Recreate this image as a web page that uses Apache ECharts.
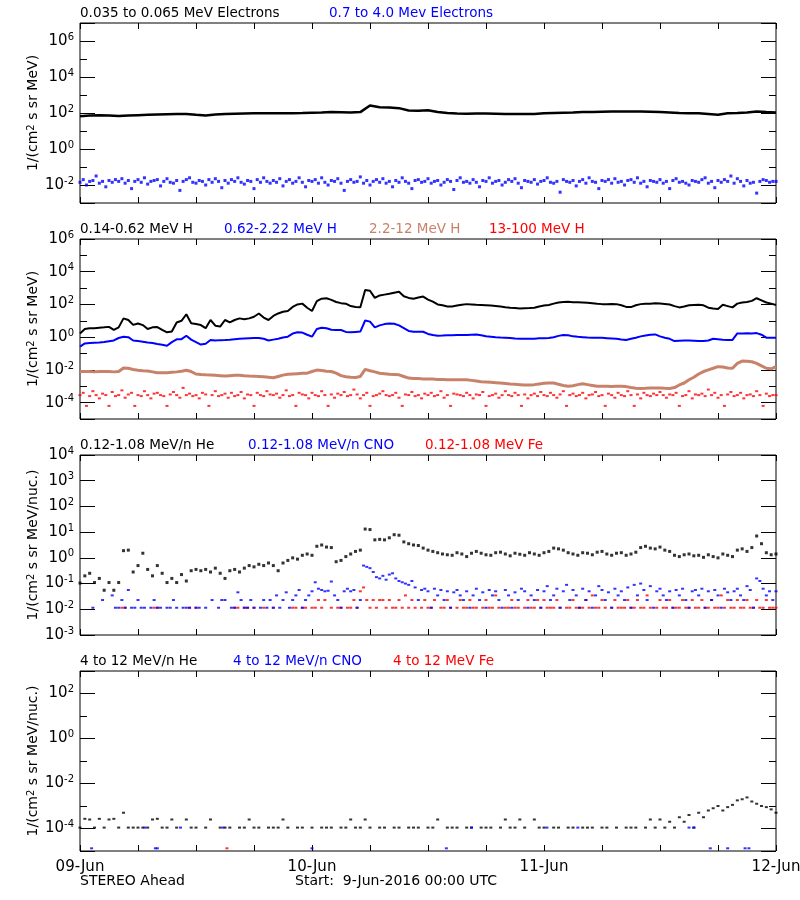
<!DOCTYPE html>
<html><head><meta charset="utf-8">
<script src="https://cdn.jsdelivr.net/npm/echarts@6/dist/echarts.min.js"></script>
<style>html,body{margin:0;padding:0;background:#fff}#chart{width:800px;height:900px}</style>
</head><body><div id="chart"></div>
<script>
// ---------------- DATA (log10 of flux), hours since 09-Jun-2016 00:00 UTC ----------------
const dayLabels = ['09-Jun', '10-Jun', '11-Jun', '12-Jun'];
const startText = 'Start:  9-Jun-2016 00:00 UTC';
const spacecraft = 'STEREO Ahead';

// Panel 1: electrons
const e1LowLog10_1h = [1.82,1.86,1.88,1.86,1.83,1.86,1.88,1.9,1.92,1.93,1.94,1.95,1.9,1.86,1.92,1.95,1.96,1.97,1.98,1.99,1.98,1.98,1.99,2.0,2.02,2.03,2.05,2.04,2.03,2.05,2.42,2.32,2.3,2.27,2.14,2.12,2.15,2.05,2.0,1.97,1.96,1.97,1.97,1.96,1.95,1.95,1.94,1.95,1.98,2.0,2.02,2.03,2.05,2.06,2.07,2.08,2.08,2.08,2.09,2.07,2.05,2.03,2.0,1.99,1.98,1.94,1.9,1.98,2.0,2.03,2.08,2.05,2.03];
const e1HighLog10_20m = [
-1.85,-1.7,-2.0,-1.8,-1.75,-1.5,-1.9,-1.8,-2.1,-1.75,-1.85,-1.7,
-1.8,-1.65,-1.9,-1.75,-2.2,-1.8,-1.7,-1.85,-1.6,-1.95,-1.8,-1.75,
-1.7,-2.05,-1.8,-1.65,-1.85,-1.9,-1.75,-2.3,-1.8,-1.7,-1.6,-1.85,
-1.9,-1.75,-1.8,-2.0,-1.7,-1.85,-1.65,-1.8,-2.15,-1.75,-1.9,-1.7,
-1.8,-1.6,-1.85,-1.95,-1.75,-1.8,-2.2,-1.7,-1.85,-1.6,-1.8,-1.9,
-1.75,-1.85,-1.65,-2.05,-1.8,-1.7,-1.9,-1.8,-1.6,-1.85,-2.1,-1.75,
-1.8,-1.7,-1.9,-1.6,-1.85,-2.0,-1.75,-1.8,-1.65,-1.9,-2.3,-1.8,
-1.7,-1.85,-1.8,-1.55,-1.9,-1.75,-2.0,-1.8,-1.7,-1.85,-1.65,-1.9,
-1.8,-2.1,-1.75,-1.85,-1.6,-1.8,-1.9,-2.2,-1.75,-1.7,-1.85,-1.8,
-1.65,-1.9,-1.8,-1.75,-2.0,-1.85,-1.7,-1.8,-2.25,-1.75,-1.6,-1.85,
-1.8,-1.9,-1.7,-1.85,-2.1,-1.75,-1.8,-1.6,-1.9,-1.8,-1.75,-2.0,
-1.85,-1.7,-1.8,-1.65,-1.9,-2.15,-1.75,-1.8,-1.85,-1.7,-1.95,-1.8,
-1.75,-1.6,-1.85,-1.9,-1.8,-2.4,-1.7,-1.8,-1.85,-1.75,-2.05,-1.8,
-1.7,-1.9,-1.6,-1.8,-1.85,-2.2,-1.75,-1.8,-1.7,-1.9,-1.65,-1.85,
-1.8,-2.0,-1.75,-1.7,-1.85,-1.6,-1.9,-1.8,-2.1,-1.75,-1.8,-1.85,
-1.7,-1.9,-1.8,-2.2,-1.75,-1.65,-1.85,-1.8,-1.9,-2.0,-1.75,-1.8,
-1.85,-1.7,-1.6,-1.9,-1.8,-2.15,-1.75,-1.85,-1.7,-1.8,-1.5,-1.9,
-1.65,-1.8,-2.05,-1.75,-1.9,-1.85,-2.45,-1.8,-1.7,-1.75,-1.85,-1.8,
-1.8];

// Panel 2: protons
const h1Log10_30m = [
0.23,0.5,0.55,0.55,0.58,0.6,0.63,0.45,0.6,1.15,1.05,0.75,
0.84,0.74,0.5,0.6,0.62,0.45,0.3,0.35,0.9,1.0,1.4,0.85,
0.8,0.74,0.55,1.05,0.7,0.65,1.05,0.9,1.05,1.15,1.1,1.15,
1.25,1.45,1.2,1.05,1.3,1.45,1.55,1.6,1.85,2.0,2.05,1.8,
1.6,2.2,2.35,2.38,2.28,2.15,2.08,2.05,1.9,1.85,1.83,2.88,
2.84,2.4,2.55,2.6,2.65,2.72,2.78,2.5,2.4,2.35,2.42,2.48,
2.3,2.17,2.0,1.95,1.88,1.87,1.93,1.98,2.02,2.0,1.98,1.97,
1.95,1.93,1.9,1.87,1.83,1.8,1.78,1.76,1.77,1.78,1.8,1.88,
1.93,1.97,2.05,2.12,2.15,2.17,2.14,2.13,2.12,2.1,2.07,2.04,
2.02,2.02,2.03,2.02,1.95,1.85,1.84,1.95,2.02,2.04,2.05,2.07,
2.06,2.03,2.0,1.9,1.82,1.88,1.95,1.97,1.98,1.95,1.8,1.75,
1.72,1.98,1.9,1.82,2.05,2.12,2.15,2.22,2.38,2.25,2.12,2.05,
1.97];
const h2Log10_30m = [
-0.58,-0.38,-0.35,-0.34,-0.33,-0.3,-0.25,-0.2,-0.05,0.03,0.0,-0.2,
-0.24,-0.28,-0.32,-0.35,-0.42,-0.46,-0.52,-0.3,-0.13,-0.12,0.09,-0.15,
-0.3,-0.45,-0.4,-0.17,-0.2,-0.18,-0.17,-0.15,-0.12,-0.1,-0.08,-0.06,
-0.05,-0.05,-0.1,-0.2,-0.15,-0.1,-0.02,0.03,0.22,0.3,0.28,0.15,
0.03,0.5,0.58,0.55,0.45,0.44,0.44,0.32,0.3,0.32,0.34,1.02,
0.95,0.6,0.72,0.8,0.84,0.82,0.72,0.55,0.38,0.33,0.33,0.33,
0.2,0.13,0.09,0.1,0.12,0.12,0.13,0.14,0.13,0.15,0.17,0.12,
0.06,0.03,0.0,-0.02,-0.03,-0.05,-0.08,-0.1,-0.1,-0.1,-0.09,-0.07,
-0.06,-0.05,0.0,0.08,0.13,0.12,0.05,0.02,0.0,-0.02,-0.03,-0.03,
-0.04,-0.06,-0.08,-0.1,-0.14,-0.17,-0.1,-0.03,0.05,0.1,0.15,0.17,
0.05,-0.03,-0.1,-0.24,-0.22,-0.2,-0.2,-0.22,-0.24,-0.24,-0.2,-0.1,
-0.12,-0.15,-0.17,-0.17,0.23,0.23,0.24,0.23,0.25,0.15,-0.03,-0.03,
-0.03];
const h3Log10_30m = [
-2.1,-2.1,-2.1,-2.12,-2.1,-2.1,-2.1,-2.12,-2.1,-1.88,-1.9,-1.97,
-2.02,-2.05,-2.07,-2.12,-2.17,-2.17,-2.18,-2.15,-2.12,-2.08,-2.02,-2.1,
-2.25,-2.28,-2.3,-2.31,-2.33,-2.35,-2.37,-2.35,-2.33,-2.32,-2.35,-2.37,
-2.38,-2.4,-2.42,-2.45,-2.48,-2.4,-2.32,-2.27,-2.25,-2.23,-2.21,-2.2,
-2.1,-2.01,-2.03,-2.08,-2.1,-2.2,-2.35,-2.42,-2.45,-2.46,-2.4,-1.97,
-2.05,-2.12,-2.2,-2.23,-2.26,-2.28,-2.3,-2.4,-2.5,-2.52,-2.53,-2.55,
-2.56,-2.56,-2.58,-2.58,-2.6,-2.6,-2.6,-2.6,-2.6,-2.64,-2.68,-2.72,
-2.74,-2.76,-2.78,-2.8,-2.83,-2.86,-2.88,-2.9,-2.92,-2.92,-2.9,-2.86,
-2.82,-2.8,-2.8,-2.88,-2.95,-3.0,-2.97,-2.9,-2.85,-2.9,-2.95,-3.0,
-3.0,-3.0,-3.02,-3.0,-3.0,-3.02,-3.08,-3.12,-3.13,-3.12,-3.1,-3.1,
-3.1,-3.12,-3.13,-3.08,-2.92,-2.8,-2.6,-2.45,-2.25,-2.1,-2.0,-1.9,
-1.8,-1.82,-1.88,-1.9,-1.6,-1.46,-1.47,-1.5,-1.6,-1.75,-1.9,-1.93,
-1.8];
const h4Log10_20m = [
-3.54,-3.4,-4.2,-3.6,-3.3,-3.54,-3.74,-3.45,-3.54,-4.2,-3.35,-3.6,
-3.54,-3.25,-3.7,-3.5,-3.4,-4.2,-3.54,-3.6,-3.3,-3.54,-3.74,-3.45,
-3.4,-3.54,-3.6,-4.2,-3.5,-3.35,-3.54,-3.7,-3.1,-3.54,-3.45,-3.6,
-3.54,-3.74,-3.4,-3.5,-4.2,-3.54,-3.3,-3.6,-3.54,-3.45,-3.7,-3.4,
-3.6,-3.54,-3.35,-3.74,-3.5,-3.54,-4.2,-3.4,-3.54,-3.6,-3.3,-3.5,
-3.54,-3.45,-3.7,-3.54,-3.25,-3.6,-3.54,-4.2,-3.4,-3.5,-3.54,-3.74,
-3.4,-3.54,-3.6,-3.3,-3.54,-4.2,-3.5,-3.7,-3.45,-3.54,-3.35,-3.6,
-3.54,-3.2,-3.5,-3.74,-3.54,-3.4,-4.2,-3.6,-3.54,-3.45,-3.3,-3.54,
-3.6,-3.54,-3.4,-3.7,-4.2,-3.5,-3.54,-3.35,-3.6,-3.54,-3.74,-3.45,
-3.54,-3.4,-3.6,-3.54,-3.3,-3.7,-3.54,-4.2,-3.45,-3.5,-3.54,-3.6,
-3.4,-3.54,-3.74,-3.5,-3.54,-3.35,-4.2,-3.6,-3.54,-3.45,-3.7,-3.54,
-3.3,-3.54,-3.6,-3.4,-3.54,-4.2,-3.5,-3.74,-3.54,-3.45,-3.6,-3.35,
-3.54,-3.6,-3.4,-3.54,-3.7,-3.5,-3.3,-4.2,-3.54,-3.45,-3.6,-3.54,
-3.4,-3.74,-3.54,-3.5,-3.35,-3.6,-3.54,-4.2,-3.45,-3.54,-3.7,-3.4,
-3.54,-3.6,-3.3,-3.54,-4.2,-3.5,-3.74,-3.4,-3.54,-3.6,-3.45,-3.54,
-3.35,-3.54,-3.7,-3.5,-3.54,-3.4,-4.2,-3.6,-3.54,-3.3,-3.74,-3.5,
-3.54,-3.45,-3.6,-3.2,-3.54,-3.4,-3.7,-3.54,-4.2,-3.5,-3.35,-3.6,
-3.54,-3.4,-3.74,-3.54,-3.5,-3.6,-3.3,-3.54,-4.2,-3.45,-3.6,-3.54,
-3.54];

// Panel 3: 0.12-1.08 MeV/n ions
const heLowLog10_30m = [
-0.98,-0.7,-0.6,-0.96,-0.8,-1.26,-0.96,-1.26,-0.96,0.28,0.3,-0.55,
-0.3,0.18,-0.45,-0.7,-0.3,-0.6,-0.96,-0.8,-0.96,-0.65,-0.9,-0.5,
-0.45,-0.5,-0.45,-0.55,-0.4,-0.6,-0.8,-0.5,-0.45,-0.55,-0.4,-0.3,
-0.35,-0.25,-0.3,-0.2,-0.3,-0.5,-0.2,-0.1,0.0,-0.05,0.1,0.15,
0.1,0.45,0.5,0.42,0.4,-0.15,-0.1,0.05,0.15,0.25,0.3,1.12,
1.1,0.7,0.72,0.7,0.78,0.9,0.88,0.62,0.55,0.5,0.48,0.38,
0.3,0.25,0.2,0.15,0.12,0.1,0.2,0.15,0.05,0.18,0.25,0.18,
0.12,0.1,0.2,0.22,0.15,0.08,0.18,0.14,0.1,0.2,0.15,0.1,
0.2,0.25,0.38,0.35,0.3,0.2,0.15,0.1,0.2,0.18,0.12,0.22,
0.25,0.15,0.1,0.18,0.2,0.1,0.15,0.22,0.4,0.45,0.38,0.35,
0.42,0.3,0.25,0.1,0.05,0.12,0.15,0.08,0.1,0.02,0.12,0.05,
0.0,0.15,0.1,0.05,0.3,0.35,0.25,0.4,0.85,0.55,0.2,0.12,
0.15];
const cnoLowLog10_20m = [
null,null,null,null,-1.94,null,null,-1.64,null,null,-1.46,-1.94,
-1.94,-1.64,-1.94,-1.25,-1.94,-1.94,-1.64,-1.94,-1.94,null,-1.94,-1.64,
-1.94,-1.94,null,-1.94,-1.94,-1.64,-1.94,null,-1.94,-1.94,-1.94,null,
-1.94,-1.94,null,-1.94,null,-1.64,null,-1.94,-1.64,-1.64,null,-1.94,
-1.94,-1.34,-1.64,-1.94,-1.94,-1.64,-1.94,null,-1.94,-1.64,-1.94,-1.64,
-1.94,-1.46,-1.94,-1.64,-1.34,-1.94,-1.64,-1.46,-1.25,-1.94,-1.64,-1.46,
-1.3,-0.95,-1.2,-1.25,-1.3,-1.28,-0.92,-1.46,-1.64,-1.94,-1.3,-1.2,
-1.3,-1.25,-1.94,-1.64,-0.3,-0.35,-0.4,-0.55,-0.75,-0.8,-0.7,-0.85,
-0.65,-0.6,-0.8,-0.9,-0.95,-1.0,-1.05,-0.9,-1.15,-1.64,-1.25,-1.2,
-1.3,-1.94,-1.2,-1.46,-1.25,-1.64,-1.3,-1.94,-1.34,-1.25,-1.46,-1.64,
-1.3,-1.94,-1.46,-1.2,-1.64,-1.34,-1.94,-1.25,-1.46,-1.3,-1.64,-1.94,
-1.25,-1.46,-1.94,-1.34,-1.64,-1.2,-1.3,-1.94,-1.46,-1.64,-1.25,-1.94,
-1.3,-1.1,-1.64,-1.46,-1.2,-1.94,-1.3,-1.05,-1.64,-1.25,-1.46,-1.94,
-1.2,-1.64,-1.3,-1.94,-1.46,-1.1,-1.25,-1.64,-1.34,-1.94,-1.2,-1.46,
-1.3,-1.64,-1.15,-1.94,-1.05,-1.46,-1.0,-1.25,-1.64,-1.1,-1.94,-1.3,
-1.2,-1.46,-1.64,-1.3,-1.94,-1.25,-1.46,-1.2,-1.64,-1.94,-1.3,-1.25,
-1.46,-1.2,-1.94,-1.3,-1.64,-1.25,-1.46,-1.94,-1.2,-1.34,-1.64,-1.3,
-1.2,-1.46,-1.64,-1.1,-1.25,-1.94,-0.8,-0.9,-1.2,-1.46,-1.3,-1.64,
-1.3];
const feLowLog10_20m = [
null,null,null,null,null,null,null,null,null,null,null,null,
null,-1.94,-1.94,null,null,null,null,null,null,null,null,-1.94,
-1.94,null,null,null,null,null,null,null,null,null,-1.94,null,
-1.94,null,null,null,null,null,null,null,null,null,null,null,
-1.94,-1.94,null,-1.94,-1.94,null,-1.94,null,null,-1.94,null,null,
-1.94,null,null,null,null,null,-1.94,-1.94,null,-1.94,-1.94,null,
-1.94,-1.94,-1.64,-1.94,-1.64,null,-1.94,null,-1.94,-1.94,null,-1.94,
-1.94,-1.64,-1.94,-1.3,-1.15,-1.64,-1.94,-1.64,-1.94,-1.64,-1.64,-1.94,
-1.64,-1.94,-1.94,-1.64,-1.94,-1.46,-1.94,-1.64,-1.94,null,-1.94,-1.64,
-1.94,-1.94,-1.64,null,-1.94,-1.94,-1.64,-1.94,null,-1.94,-1.64,-1.94,
-1.94,-1.64,-1.94,-1.94,null,-1.94,-1.64,-1.94,-1.94,-1.46,-1.94,null,
-1.94,-1.94,-1.64,-1.94,-1.94,null,-1.94,-1.64,-1.94,-1.94,-1.64,-1.94,
-1.64,-1.94,-1.94,-1.94,-1.64,-1.94,null,-1.94,-1.94,-1.64,-1.94,-1.94,
-1.94,-1.64,-1.94,-1.46,-1.94,-1.94,-1.64,-1.94,null,-1.94,-1.64,-1.94,
-1.94,-1.94,-1.64,-1.94,-1.94,-1.64,-1.94,-1.94,-1.46,-1.94,null,-1.94,
-1.64,-1.94,-1.94,-1.64,-1.94,-1.94,-1.94,-1.64,-1.94,-1.94,-1.64,-1.94,
-1.94,-1.64,-1.94,-1.94,-1.64,-1.94,-1.94,-1.46,-1.94,-1.64,-1.94,-1.94,
-1.64,-1.94,-1.94,-1.64,-1.94,-1.94,-1.64,-1.94,-1.94,-1.64,-1.94,-1.94,
-1.94];

// Panel 4: 4-12 MeV/n ions
const heHighLog10_30m = [
-3.96,-3.57,-3.6,-3.96,-3.57,-3.96,-3.6,-3.57,-3.96,-3.3,-3.96,-3.96,
-3.96,-3.96,-3.96,-3.6,-3.57,-3.96,-3.96,-3.6,-3.96,null,-3.6,-3.96,
-3.96,null,-3.96,-3.6,null,-3.96,-3.96,-3.96,null,-3.96,-3.96,-3.6,
-3.96,-3.96,null,-3.96,-3.96,-3.96,-3.6,-3.96,null,-3.96,-3.96,null,
-3.96,null,-3.96,-3.96,-3.96,null,-3.96,-3.96,-3.6,-3.96,-3.96,-3.6,
-3.96,null,-3.96,-3.96,null,-3.96,-3.96,null,-3.96,-3.96,-3.96,null,
-3.96,-3.96,-3.6,null,-3.96,-3.96,-3.96,null,-3.96,-3.96,null,-3.96,
-3.96,-3.96,null,-3.96,-3.6,-3.96,-3.96,-3.6,-3.96,null,-3.6,-3.96,
-3.96,null,-3.96,-3.96,null,-3.96,-3.96,null,-3.96,-3.96,-3.96,null,
-3.96,-3.96,null,-3.96,null,-3.96,-3.96,-3.96,null,-3.96,-3.6,-3.96,
-3.6,-3.96,-3.7,-3.96,-3.5,-3.7,-3.4,-3.96,-3.3,-3.5,-3.2,-3.1,
-3.0,-3.2,-3.05,-2.95,-2.75,-2.7,-2.62,-2.8,-2.9,-3.0,-3.05,-3.15,
-3.3];
const cnoHighHours = [1.2, 6.7, 7.8, 8.0, 10.4, 14.8, 24.0, 37.9, 40.5, 48.3, 51.5, 63.0, 63.5, 65.2, 67.0, 68.8, 69.2];
const cnoHighLog10 = [-4.88, -3.96, -4.88, -4.88, -3.96, -3.96, -4.88, -4.88, -3.96, -3.96, -3.96, -3.96, -3.96, -4.88, -4.88, -4.88, -4.88];
const feHighHours = [15.2];
const feHighLog10 = [-4.88];

// ---------------- LAYOUT / STYLE ----------------
const FONT = 'DejaVu Sans';
const BLACK = '#000000', BLUE = '#0000ff', BROWN = '#c8826a', RED = '#ff0000';
const panelTops = [23, 239, 455, 671];
const panelH = 180;
const unitE = '1/(cm{s|2} s sr MeV)';
const unitN = '1/(cm{s|2} s sr MeV/nuc.)';
const panels = [
  {expMin: -3, expMax: 7, step: 2, name: unitE},
  {expMin: -5, expMax: 6, step: 2, name: unitE},
  {expMin: -3, expMax: 4, step: 1, name: unitN},
  {expMin: -5, expMax: 3, step: 2, name: unitN}
];
const titles = [
  [0, 80, '0.035 to 0.065 MeV Electrons', BLACK],
  [0, 329, '0.7 to 4.0 Mev Electrons', BLUE],
  [1, 80, '0.14-0.62 MeV H', BLACK],
  [1, 224, '0.62-2.22 MeV H', BLUE],
  [1, 369, '2.2-12 MeV H', BROWN],
  [1, 489, '13-100 MeV H', RED],
  [2, 80, '0.12-1.08 MeV/n He', BLACK],
  [2, 248, '0.12-1.08 MeV/n CNO', BLUE],
  [2, 425, '0.12-1.08 MeV Fe', RED],
  [3, 80, '4 to 12 MeV/n He', BLACK],
  [3, 233, '4 to 12 MeV/n CNO', BLUE],
  [3, 393, '4 to 12 MeV Fe', RED]
];

function uniformPoints(values, stepHours) {
  const pts = [];
  values.forEach((e, i) => { if (e !== null) pts.push([i * stepHours, Math.pow(10, e)]); });
  return pts;
}
function pairedPoints(hours, values) {
  return hours.map((h, i) => [h, Math.pow(10, values[i])]);
}

const grid = [], xAxis = [], yAxis = [];
const tickLine = {color: BLACK, width: 1};
const noLine = {show: false, onZero: false};
panels.forEach((p, i) => {
  grid.push({left: 80, right: 24, top: panelTops[i], height: panelH, show: true,
    borderColor: BLACK, borderWidth: 1, containLabel: false, outerBoundsMode: 'none'});
  ['bottom', 'top'].forEach(pos => {
    xAxis.push({type: 'value', gridIndex: i, min: 0, max: 72, interval: 6, position: pos,
      axisLine: noLine, splitLine: {show: false},
      axisTick: {show: true, inside: true, length: 6, lineStyle: tickLine},
      axisLabel: (i === 3 && pos === 'bottom') ? {
        show: true, showMinLabel: true, showMaxLabel: true, margin: 9, color: BLACK,
        fontFamily: FONT, fontSize: 15,
        formatter: v => (v % 24 === 0 ? dayLabels[v / 24] : '')
      } : {show: false}
    });
  });
  // data axis (log scale)
  yAxis.push({type: 'log', logBase: 10, gridIndex: i, min: Math.pow(10, p.expMin), max: Math.pow(10, p.expMax), show: false, axisLine: noLine});
  // minor ticks every decade
  ['left', 'right'].forEach(pos => yAxis.push({type: 'value', gridIndex: i, min: p.expMin, max: p.expMax, interval: 1,
    position: pos, axisLine: noLine, splitLine: {show: false}, axisLabel: {show: false},
    axisTick: {show: true, inside: true, length: 7, lineStyle: tickLine}}));
  // major ticks + labels
  ['left', 'right'].forEach(pos => {
    const ax = {type: 'value', gridIndex: i, min: p.expMin, max: p.expMax, position: pos,
      axisLine: noLine, splitLine: {show: false},
      axisTick: {show: true, inside: true, length: 15, lineStyle: tickLine},
      axisLabel: {show: false}};
    if (p.step === 1) ax.interval = 1;
    if (pos === 'left') {
      ax.axisLabel = {show: true, margin: 6, showMinLabel: true, showMaxLabel: true,
        formatter: v => (Number.isInteger(v) && v % p.step === 0) ? '{b|10}{s|' + v + '}' : '',
        rich: {
          b: {fontFamily: FONT, fontSize: 15, color: BLACK, lineHeight: 18},
          s: {fontFamily: FONT, fontSize: 10, color: BLACK, lineHeight: 10, verticalAlign: 'top'}
        }};
      ax.name = p.name;
      ax.nameLocation = 'middle';
      ax.nameGap = 40;
      ax.nameMoveOverlap = false;
      ax.nameTextStyle = {fontFamily: FONT, fontSize: 14, color: BLACK,
        rich: {s: {fontFamily: FONT, fontSize: 10, color: BLACK, lineHeight: 10, verticalAlign: 'top'}}};
    }
    yAxis.push(ax);
  });
});

const ySel = i => i * 5; // data axis index of panel i
const series = [
  {type: 'line', xAxisIndex: 0, yAxisIndex: ySel(0), data: uniformPoints(e1LowLog10_1h, 1), showSymbol: false, lineStyle: {color: BLACK, width: 2.5}, itemStyle: {color: BLACK}},
  {type: 'scatter', xAxisIndex: 0, yAxisIndex: ySel(0), data: uniformPoints(e1HighLog10_20m, 1/3), symbol: 'rect', symbolSize: [3, 3], itemStyle: {color: BLUE}},
  {type: 'line', xAxisIndex: 2, yAxisIndex: ySel(1), data: uniformPoints(h3Log10_30m, 0.5), showSymbol: false, lineStyle: {color: BROWN, width: 3}, itemStyle: {color: BROWN}},
  {type: 'scatter', xAxisIndex: 2, yAxisIndex: ySel(1), data: uniformPoints(h4Log10_20m, 1/3), symbol: 'rect', symbolSize: [3, 2], itemStyle: {color: RED}},
  {type: 'line', xAxisIndex: 2, yAxisIndex: ySel(1), data: uniformPoints(h2Log10_30m, 0.5), showSymbol: false, lineStyle: {color: BLUE, width: 2}, itemStyle: {color: BLUE}},
  {type: 'line', xAxisIndex: 2, yAxisIndex: ySel(1), data: uniformPoints(h1Log10_30m, 0.5), showSymbol: false, lineStyle: {color: BLACK, width: 2}, itemStyle: {color: BLACK}},
  {type: 'scatter', xAxisIndex: 4, yAxisIndex: ySel(2), data: uniformPoints(feLowLog10_20m, 1/3), symbol: 'rect', symbolSize: [3, 2], itemStyle: {color: RED}},
  {type: 'scatter', xAxisIndex: 4, yAxisIndex: ySel(2), data: uniformPoints(cnoLowLog10_20m, 1/3), symbol: 'rect', symbolSize: [3, 2], itemStyle: {color: BLUE}},
  {type: 'scatter', xAxisIndex: 4, yAxisIndex: ySel(2), data: uniformPoints(heLowLog10_30m, 0.5), symbol: 'rect', symbolSize: [3, 3], itemStyle: {color: BLACK}},
  {type: 'scatter', xAxisIndex: 6, yAxisIndex: ySel(3), data: uniformPoints(heHighLog10_30m, 0.5), symbol: 'rect', symbolSize: [3, 2], itemStyle: {color: BLACK}},
  {type: 'scatter', xAxisIndex: 6, yAxisIndex: ySel(3), data: pairedPoints(cnoHighHours, cnoHighLog10), symbol: 'rect', symbolSize: [3, 2], itemStyle: {color: BLUE}},
  {type: 'scatter', xAxisIndex: 6, yAxisIndex: ySel(3), data: pairedPoints(feHighHours, feHighLog10), symbol: 'rect', symbolSize: [3, 2], itemStyle: {color: RED}}
];
series.forEach(s => { s.silent = true; s.clip = true; s.animation = false; });

const title = titles.map(t => ({text: t[2], left: t[1], top: panelTops[t[0]] - 17, padding: 0,
  textStyle: {fontFamily: FONT, fontSize: 13.5, fontWeight: 'normal', color: t[3]}}));
title.push({text: spacecraft, left: 80, top: 874, padding: 0, textStyle: {fontFamily: FONT, fontSize: 14, fontWeight: 'normal', color: BLACK}});
title.push({text: startText, left: 295, top: 874, padding: 0, textStyle: {fontFamily: FONT, fontSize: 14, fontWeight: 'normal', color: BLACK}});

const chart = echarts.init(document.getElementById('chart'), null, {renderer: 'canvas'});
chart.setOption({animation: false, backgroundColor: '#ffffff', title, grid, xAxis, yAxis, series});
</script></body></html>
